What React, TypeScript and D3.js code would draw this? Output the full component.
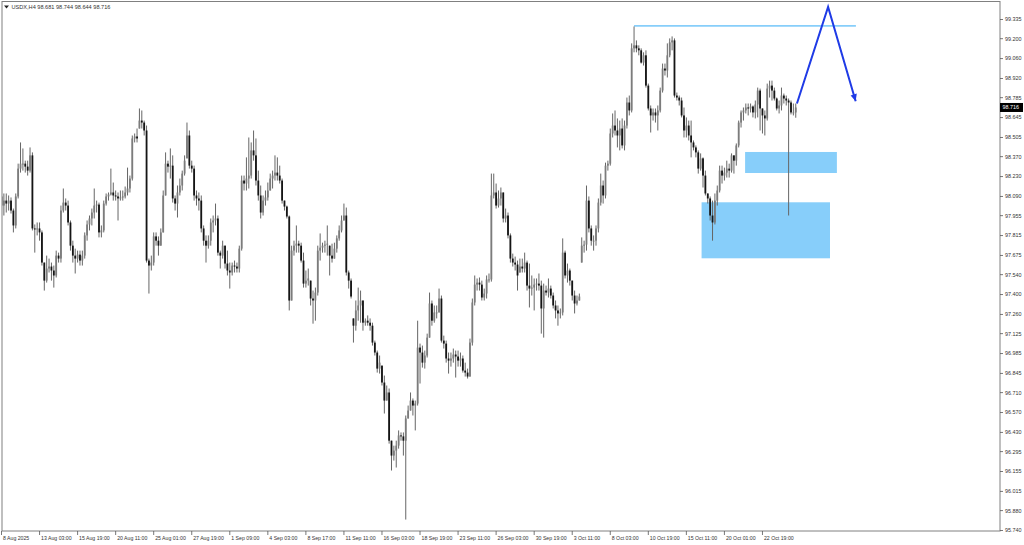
import React from "react";
import * as d3 from "d3";

const titleText = "USDX,H4  98.681 98.744 98.644 98.716";

const highs = [
  98.153, 98.111, 98.111, 98.097, 98.083, 98.005, 98.111, 98.321, 98.470, 98.428,
  98.342, 98.342, 98.435, 98.400, 97.893, 97.907, 97.907, 97.851, 97.625, 97.674,
  97.653, 97.625, 97.604, 97.709, 97.695, 98.026, 98.146, 98.076, 98.061, 97.921,
  97.779, 97.723, 97.709, 97.709, 97.709, 97.837, 97.921, 97.956, 98.005, 98.146,
  98.061, 98.047, 97.886, 98.061, 98.111, 98.118, 98.286, 98.188, 98.132, 98.118,
  98.132, 98.132, 98.160, 98.293, 98.237, 98.519, 98.533, 98.568, 98.709, 98.695,
  98.624, 98.589, 97.653, 97.674, 97.837, 97.837, 97.809, 97.865, 98.132, 98.400,
  98.342, 98.428, 98.379, 98.097, 98.167, 98.216, 98.272, 98.379, 98.610, 98.554,
  98.342, 98.307, 98.132, 98.118, 98.097, 97.886, 97.816, 97.816, 97.935, 97.956,
  98.040, 97.956, 97.709, 97.779, 97.744, 97.709, 97.625, 97.625, 97.639, 97.625,
  97.744, 98.237, 98.237, 98.365, 98.505, 98.470, 98.554, 98.498, 98.272, 98.167,
  98.097, 98.132, 98.188, 98.251, 98.272, 98.379, 98.365, 98.307, 98.216, 98.061,
  98.026, 97.956, 97.744, 97.779, 97.886, 97.779, 97.765, 97.695, 97.569, 97.583,
  97.498, 97.428, 97.449, 97.744, 97.830, 97.765, 97.779, 97.886, 97.744, 97.758,
  97.765, 97.816, 97.886, 97.956, 98.040, 98.012, 97.569, 97.513, 97.232, 97.358,
  97.449, 97.428, 97.358, 97.232, 97.253, 97.232, 97.202, 97.076, 97.006, 96.971,
  96.900, 96.830, 96.760, 96.739, 96.372, 96.337, 96.372, 96.444, 96.430, 96.430,
  96.549, 96.619, 96.711, 96.669, 96.654, 97.216, 97.055, 97.041, 97.006, 97.125,
  97.414, 97.358, 97.323, 97.323, 97.442, 97.393, 97.111, 97.076, 96.992, 96.992,
  97.020, 97.006, 97.006, 96.992, 96.971, 96.921, 96.879, 97.090, 97.372, 97.534,
  97.513, 97.520, 97.498, 97.442, 97.534, 97.548, 98.251, 98.251, 98.181, 98.132,
  98.153, 98.118, 98.005, 97.977, 97.830, 97.688, 97.667, 97.639, 97.653, 97.653,
  97.695, 97.639, 97.618, 97.534, 97.513, 97.513, 97.548, 97.498, 97.477, 97.463,
  97.513, 97.463, 97.414, 97.358, 97.323, 97.302, 97.795, 97.709, 97.618, 97.583,
  97.498, 97.428, 97.393, 97.407, 97.802, 97.779, 98.167, 98.090, 97.886, 97.816,
  97.886, 98.076, 98.251, 98.202, 98.328, 98.342, 98.568, 98.674, 98.695, 98.639,
  98.624, 98.639, 98.624, 98.786, 98.800, 99.167, 99.286, 99.188, 99.153, 99.132,
  99.104, 99.118, 98.884, 98.730, 98.709, 98.709, 98.730, 98.856, 99.025, 99.025,
  99.167, 99.202, 99.216, 99.202, 98.821, 98.800, 98.786, 98.716, 98.646, 98.624,
  98.624, 98.484, 98.449, 98.414, 98.393, 98.365, 98.272, 98.111, 98.090, 98.061,
  98.111, 98.167, 98.307, 98.307, 98.293, 98.342, 98.321, 98.393, 98.379, 98.463,
  98.624, 98.695, 98.716, 98.744, 98.744, 98.744, 98.730, 98.765, 98.856, 98.849,
  98.709, 98.695, 98.884, 98.905, 98.905, 98.856, 98.786, 98.765, 98.856, 98.814,
  98.800, 98.779, 98.765, 98.744, 98.744,
];

const lows = [
  97.907, 97.956, 97.977, 97.991, 97.970, 97.837, 97.865, 98.076, 98.258, 98.272,
  98.258, 98.237, 98.258, 97.851, 97.695, 97.816, 97.779, 97.604, 97.428, 97.484,
  97.555, 97.498, 97.449, 97.520, 97.625, 97.625, 97.977, 97.991, 97.886, 97.709,
  97.625, 97.548, 97.625, 97.604, 97.604, 97.653, 97.779, 97.851, 97.886, 97.935,
  97.977, 97.802, 97.802, 97.837, 98.026, 98.061, 98.097, 98.061, 98.061, 97.921,
  98.061, 98.061, 98.076, 98.097, 98.118, 98.202, 98.470, 98.470, 98.568, 98.568,
  98.519, 97.625, 97.407, 97.569, 97.604, 97.744, 97.674, 97.744, 97.837, 98.097,
  98.258, 98.216, 98.047, 97.991, 97.942, 98.097, 98.132, 98.237, 98.358, 98.286,
  98.258, 98.061, 98.026, 97.991, 97.837, 97.744, 97.625, 97.723, 97.744, 97.837,
  97.886, 97.674, 97.583, 97.653, 97.583, 97.534, 97.442, 97.534, 97.555, 97.555,
  97.555, 97.709, 98.132, 98.132, 98.146, 98.216, 98.342, 98.167, 98.061, 97.935,
  97.956, 98.026, 98.061, 98.132, 98.146, 98.202, 98.202, 98.181, 98.040, 97.991,
  97.935, 97.288, 97.358, 97.674, 97.695, 97.695, 97.625, 97.449, 97.449, 97.463,
  97.323, 97.195, 97.216, 97.393, 97.639, 97.695, 97.695, 97.674, 97.534, 97.625,
  97.653, 97.695, 97.779, 97.837, 97.921, 97.534, 97.442, 97.372, 97.062, 97.146,
  97.216, 97.202, 97.146, 97.181, 97.181, 97.146, 97.041, 96.971, 96.851, 96.844,
  96.760, 96.563, 96.654, 96.351, 96.162, 96.232, 96.183, 96.316, 96.372, 96.267,
  95.817, 96.528, 96.584, 96.549, 96.444, 96.619, 96.774, 96.886, 96.879, 96.957,
  97.097, 97.181, 97.202, 97.232, 97.274, 97.062, 97.020, 96.921, 96.844, 96.893,
  96.921, 96.816, 96.893, 96.893, 96.851, 96.823, 96.809, 96.823, 97.041, 97.323,
  97.428, 97.428, 97.358, 97.358, 97.372, 97.484, 97.491, 98.076, 98.005, 98.012,
  98.026, 97.907, 97.907, 97.795, 97.625, 97.597, 97.569, 97.428, 97.555, 97.555,
  97.555, 97.428, 97.309, 97.393, 97.288, 97.428, 97.428, 97.125, 97.097, 97.393,
  97.379, 97.372, 97.302, 97.232, 97.181, 97.232, 97.253, 97.513, 97.484, 97.463,
  97.358, 97.267, 97.323, 97.358, 97.625, 97.695, 97.709, 97.837, 97.744, 97.709,
  97.744, 97.837, 98.026, 98.040, 98.076, 98.272, 98.307, 98.505, 98.519, 98.435,
  98.414, 98.428, 98.414, 98.568, 98.660, 98.681, 99.104, 99.104, 99.083, 99.025,
  99.011, 98.856, 98.695, 98.540, 98.624, 98.610, 98.554, 98.681, 98.821, 98.941,
  98.927, 99.069, 99.118, 98.786, 98.765, 98.730, 98.646, 98.505, 98.505, 98.484,
  98.365, 98.414, 98.365, 98.251, 98.272, 98.153, 98.097, 98.040, 97.921, 97.779,
  97.893, 98.026, 98.118, 98.181, 98.202, 98.223, 98.223, 98.258, 98.251, 98.307,
  98.435, 98.575, 98.624, 98.674, 98.660, 98.681, 98.646, 98.639, 98.646, 98.554,
  98.533, 98.519, 98.624, 98.786, 98.765, 98.765, 98.695, 98.674, 98.695, 98.744,
  98.730, 97.956, 98.667, 98.660, 98.644,
];

const closes = [
  98.026, 98.061, 98.040, 98.061, 97.991, 97.886, 98.090, 98.286, 98.321, 98.321,
  98.300, 98.272, 98.379, 97.865, 97.858, 97.865, 97.837, 97.625, 97.498, 97.583,
  97.597, 97.569, 97.534, 97.674, 97.653, 97.991, 98.047, 98.026, 97.907, 97.744,
  97.674, 97.653, 97.681, 97.639, 97.674, 97.816, 97.893, 97.935, 97.977, 98.026,
  98.033, 97.837, 97.851, 98.040, 98.090, 98.104, 98.118, 98.097, 98.090, 98.076,
  98.083, 98.090, 98.118, 98.146, 98.216, 98.498, 98.512, 98.498, 98.624, 98.610,
  98.554, 97.639, 97.604, 97.625, 97.809, 97.779, 97.744, 97.837, 98.097, 98.321,
  98.300, 98.307, 98.076, 98.040, 98.118, 98.167, 98.251, 98.342, 98.519, 98.307,
  98.286, 98.097, 98.076, 98.061, 97.865, 97.779, 97.744, 97.779, 97.907, 97.921,
  97.935, 97.695, 97.674, 97.744, 97.618, 97.569, 97.555, 97.604, 97.597, 97.583,
  97.723, 98.202, 98.181, 98.216, 98.237, 98.414, 98.379, 98.202, 98.097, 97.977,
  98.061, 98.083, 98.132, 98.216, 98.237, 98.258, 98.237, 98.202, 98.061, 98.019,
  97.949, 97.358, 97.709, 97.744, 97.758, 97.744, 97.639, 97.477, 97.498, 97.513,
  97.372, 97.358, 97.414, 97.709, 97.730, 97.744, 97.751, 97.758, 97.674, 97.653,
  97.723, 97.795, 97.851, 97.921, 97.956, 97.555, 97.498, 97.386, 97.181, 97.288,
  97.323, 97.358, 97.202, 97.216, 97.202, 97.181, 97.062, 96.992, 96.879, 96.921,
  96.781, 96.654, 96.711, 96.372, 96.267, 96.302, 96.337, 96.409, 96.402, 96.372,
  96.528, 96.584, 96.654, 96.619, 96.633, 97.027, 96.992, 96.921, 96.971, 97.097,
  97.337, 97.216, 97.274, 97.274, 97.372, 97.076, 97.055, 96.950, 96.935, 96.950,
  96.978, 96.964, 96.935, 96.950, 96.865, 96.851, 96.823, 97.062, 97.344, 97.470,
  97.484, 97.470, 97.379, 97.407, 97.506, 97.506, 98.097, 98.118, 98.026, 98.076,
  98.118, 97.935, 97.956, 97.816, 97.653, 97.625, 97.611, 97.534, 97.597, 97.583,
  97.625, 97.463, 97.442, 97.449, 97.470, 97.477, 97.463, 97.302, 97.428, 97.414,
  97.442, 97.393, 97.323, 97.288, 97.267, 97.274, 97.695, 97.534, 97.569, 97.498,
  97.393, 97.337, 97.358, 97.386, 97.744, 97.751, 98.061, 97.865, 97.779, 97.779,
  97.865, 98.047, 98.167, 98.097, 98.307, 98.321, 98.533, 98.589, 98.554, 98.519,
  98.568, 98.449, 98.589, 98.751, 98.695, 99.132, 99.153, 99.132, 99.118, 99.032,
  99.083, 98.870, 98.709, 98.660, 98.681, 98.660, 98.695, 98.835, 98.990, 98.976,
  99.083, 99.174, 99.188, 98.800, 98.786, 98.765, 98.660, 98.554, 98.589, 98.519,
  98.470, 98.435, 98.400, 98.286, 98.358, 98.237, 98.111, 98.076, 97.956, 97.907,
  98.061, 98.132, 98.272, 98.237, 98.258, 98.286, 98.272, 98.379, 98.342, 98.449,
  98.610, 98.681, 98.695, 98.716, 98.709, 98.723, 98.681, 98.737, 98.835, 98.709,
  98.660, 98.639, 98.849, 98.870, 98.835, 98.779, 98.709, 98.730, 98.800, 98.779,
  98.765, 98.751, 98.681, 98.681, 98.716,
];

const firstOpen = 98.09;

const timeLabels = [
  "8 Aug 2025", "13 Aug 03:00", "15 Aug 19:00", "20 Aug 11:00", "25 Aug 01:00",
  "27 Aug 19:00", "1 Sep 09:00", "4 Sep 03:00", "8 Sep 17:00", "11 Sep 11:00",
  "16 Sep 03:00", "18 Sep 19:00", "23 Sep 11:00", "26 Sep 03:00", "30 Sep 19:00",
  "3 Oct 11:00", "8 Oct 03:00", "10 Oct 19:00", "15 Oct 11:00", "20 Oct 01:00",
  "22 Oct 19:00",
];
const barsPerLabel = 16;

const priceTicks = [
  99.335, 99.2, 99.06, 98.92, 98.785, 98.645, 98.505, 98.37, 98.23, 98.09,
  97.955, 97.815, 97.675, 97.54, 97.4, 97.26, 97.125, 96.985, 96.845, 96.71,
  96.57, 96.43, 96.295, 96.155, 96.015, 95.88, 95.74,
];
const tickLabels = [
  "99.335", "99.200", "99.060", "98.920", "98.785", "98.645", "98.505", "98.370", "98.230", "98.090",
  "97.955", "97.815", "97.675", "97.540", "97.400", "97.260", "97.125", "96.985", "96.845", "96.710",
  "96.570", "96.430", "96.295", "96.155", "96.015", "95.880", "95.740",
];
const lastPrice = 98.716;

// annotations in data space (bar index, price)
const resistance = { i0: 266, i1: 359.3, price: 99.29 };
const zones = [
  { i0: 312.7, i1: 351.3, top: 98.403, bottom: 98.255 },
  { i0: 294.4, i1: 348.4, top: 98.049, bottom: 97.655 },
];
const projection = [
  { i: 334.5, p: 98.744 },
  { i: 347.6, p: 99.423 },
  { i: 359.2, p: 98.76 },
];

export default function App() {
  const W = 1024;
  const H = 545;
  const plotL = 2;
  const plotR = 1000;
  const plotT = 1.5;
  const plotB = 531;
  const n = Math.min(highs.length, lows.length, closes.length);
  const step = 2.378;
  const x = d3.scaleLinear().domain([0, 1]).range([1.5, 1.5 + step]);
  const y = d3.scaleLinear().domain([95.74, 99.335]).range([530.5, 19.5]);
  const font = "'Liberation Sans', Arial, sans-serif";

  const bars = d3.range(n).map((i) => {
    const prev = i === 0 ? firstOpen : closes[i - 1];
    const o = Math.max(lows[i], Math.min(highs[i], prev));
    return { i, o, h: highs[i], l: lows[i], c: closes[i] };
  });

  const line = d3
    .line<{ i: number; p: number }>()
    .x((d) => x(d.i))
    .y((d) => y(d.p));

  const a = projection[projection.length - 2];
  const b = projection[projection.length - 1];
  const ax = x(a.i), ay = y(a.p), bx = x(b.i), by = y(b.p);
  const ang = Math.atan2(by - ay, bx - ax);
  const headL = 7, headW = 3.2;
  const tipX = bx, tipY = by;
  const baseX = tipX - headL * Math.cos(ang);
  const baseY = tipY - headL * Math.sin(ang);
  const head = [
    [tipX, tipY],
    [baseX + headW * Math.sin(ang), baseY - headW * Math.cos(ang)],
    [baseX - headW * Math.sin(ang), baseY + headW * Math.cos(ang)],
  ];

  return (
    <svg
      width={W}
      height={H}
      style={{ position: "absolute", left: 0, top: 0, display: "block" }}
    >
      <rect x={0} y={0} width={W} height={H} fill="#ffffff" />
      <defs>
        <clipPath id="plotclip">
          <rect x={plotL} y={plotT} width={plotR - plotL} height={plotB - plotT} />
        </clipPath>
      </defs>

      <g clipPath="url(#plotclip)">
        {zones.map((z, k) => (
          <rect
            key={k}
            x={x(z.i0)}
            y={y(z.top)}
            width={x(z.i1) - x(z.i0)}
            height={y(z.bottom) - y(z.top)}
            fill="#87cefa"
          />
        ))}
        <line
          x1={x(resistance.i0)}
          x2={x(resistance.i1)}
          y1={y(resistance.price)}
          y2={y(resistance.price)}
          stroke="#87cefa"
          strokeWidth={1.6}
        />
        {bars.map((d) => {
          const cx = x(d.i);
          const yo = y(d.o);
          const yc = y(d.c);
          const bear = d.c < d.o;
          const top = Math.min(yo, yc);
          const hgt = Math.max(0.9, Math.abs(yo - yc));
          return (
            <g key={d.i}>
              <line x1={cx} x2={cx} y1={y(d.h)} y2={y(d.l)} stroke="#666666" strokeWidth={1} />
              <rect
                x={cx - 0.9}
                y={top}
                width={1.8}
                height={hgt}
                fill={bear ? "#151515" : "#7c7c7c"}
              />
            </g>
          );
        })}
        <path d={line(projection) || ""} fill="none" stroke="#1f3be6" strokeWidth={2} />
        <path d={"M" + head.map((p) => p.join(",")).join("L") + "Z"} fill="#1f3be6" />
      </g>

      <rect
        x={plotL}
        y={plotT}
        width={plotR - plotL}
        height={plotB - plotT}
        fill="none"
        stroke="#808080"
        strokeWidth={1}
      />

      {/* title */}
      <path d="M4,5.5 L9,5.5 L6.5,8.5 Z" fill="#222" />
      <text x={11.5} y={9} fontSize={5.6} fontFamily={font} fill="#333">
        {titleText}
      </text>

      {/* price axis */}
      {priceTicks.map((t, k) => (
        <g key={k}>
          <line x1={plotR} x2={plotR + 3} y1={y(t)} y2={y(t)} stroke="#555" strokeWidth={0.8} />
          <text x={plotR + 5} y={y(t) + 1.9} fontSize={5.4} fontFamily={font} fill="#333">
            {tickLabels[k]}
          </text>
        </g>
      ))}
      <rect x={plotR} y={y(lastPrice) - 4.5} width={23} height={9} fill="#000" />
      <text x={plotR + 2.5} y={y(lastPrice) + 2} fontSize={5.4} fontFamily={font} fill="#fff">
        {lastPrice.toFixed(3)}
      </text>

      {/* time axis */}
      {timeLabels.map((lab, k) => {
        const tx = x(k * barsPerLabel);
        return (
          <g key={k}>
            <line x1={tx} x2={tx} y1={plotB} y2={plotB + 4} stroke="#555" strokeWidth={0.8} />
            <text x={tx + 1.5} y={plotB + 8.5} fontSize={5.2} fontFamily={font} fill="#333">
              {lab}
            </text>
          </g>
        );
      })}
    </svg>
  );
}
